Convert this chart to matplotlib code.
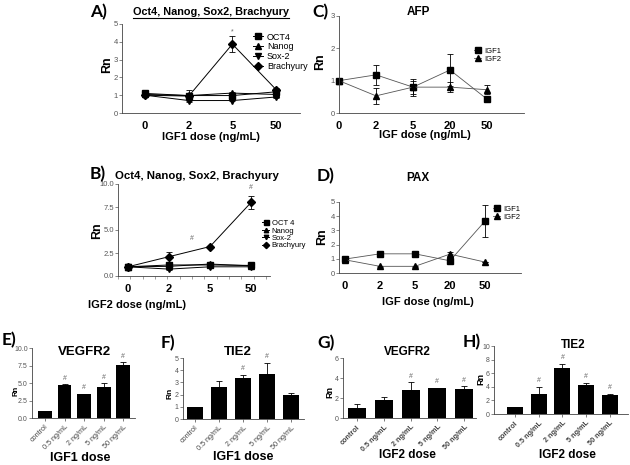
import matplotlib
matplotlib.use("Agg")
import matplotlib.pyplot as plt
from matplotlib.lines import Line2D

plt.rcParams["font.family"] = ["Liberation Sans", "DejaVu Sans"]

# ---------------------------------------------------------------- data
line_doses = ["0", "2", "5", "50"]
line_doses_igf = ["0", "2", "5", "20", "50"]
bar_doses = ["control", "0.5 ng/mL", "2 ng/mL", "5 ng/mL", "50 ng/mL"]

# A) IGF1, pluripotency markers
a_oct4 = [1.10, 0.98, 0.98, 1.19]
a_oct4_err = [0.08, 0.08, 0.08, 0.1]
a_nanog = [1.04, 0.98, 1.12, 1.04]
a_nanog_err = [0.05, 0.05, 0.06, 0.05]
a_sox2 = [1.00, 0.70, 0.70, 0.90]
a_sox2_err = [0.05, 0.05, 0.05, 0.05]
a_brachy = [1.00, 0.95, 3.87, 1.32]
a_brachy_err = [0.05, 0.33, 0.45, 0.1]

# B) IGF2, pluripotency markers
b_oct4 = [1.0, 1.2, 1.2, 1.15]
b_oct4_err = [0.05, 0.1, 0.1, 0.1]
b_nanog = [1.0, 1.05, 1.3, 1.1]
b_nanog_err = [0.05, 0.08, 0.08, 0.05]
b_sox2 = [1.0, 0.75, 1.0, 1.0]
b_sox2_err = [0.05, 0.08, 0.05, 0.05]
b_brachy = [1.0, 2.1, 3.2, 8.0]
b_brachy_err = [0.05, 0.55, 0.1, 0.7]

# C) AFP
c_igf1 = [1.0, 1.18, 0.8, 1.33, 0.43]
c_igf1_err = [0.03, 0.3, 0.26, 0.48, 0.04]
c_igf2 = [1.0, 0.53, 0.8, 0.8, 0.72]
c_igf2_err = [0.03, 0.25, 0.2, 0.16, 0.14]

# D) PAX
d_igf1 = [0.98, 1.35, 1.35, 0.86, 3.65]
d_igf1_err = [0.05, 0.05, 0.2, 0.05, 1.14]
d_igf2 = [0.93, 0.47, 0.47, 1.33, 0.77]
d_igf2_err = [0.03, 0.03, 0.03, 0.18, 0.03]

# E-H) bar charts
e_vegfr2 = [1.0, 4.7, 3.5, 4.4, 7.6]
e_vegfr2_err = [0.02, 0.1, 0.0, 0.55, 0.35]
e_marks = [False, True, True, True, True]

f_tie2 = [1.0, 2.65, 3.33, 3.72, 1.98]
f_tie2_err = [0.02, 0.47, 0.25, 0.85, 0.15]
f_marks = [False, False, True, True, False]

g_vegfr2 = [1.05, 1.85, 2.8, 2.97, 2.95]
g_vegfr2_err = [0.35, 0.22, 0.8, 0.06, 0.25]
g_marks = [False, False, True, True, True]

h_tie2 = [1.0, 3.0, 6.8, 4.3, 2.8]
h_tie2_err = [0.05, 1.0, 0.55, 0.3, 0.2]
h_marks = [False, True, True, True, True]

# ---------------------------------------------------------------- layout
W, H = 630, 465
fig = plt.figure(figsize=(W / 100, H / 100), dpi=100)


def box(x0, y0, x1, y1):
    return [x0 / W, 1 - y1 / H, (x1 - x0) / W, (y1 - y0) / H]


def ftext(x, y, s, **kw):
    kw.setdefault("ha", "center")
    kw.setdefault("va", "center")
    return fig.text(x / W, 1 - y / H, s, **kw)


def style_axes(ax, ytick_size=5.5):
    ax.spines["top"].set_visible(False)
    ax.spines["right"].set_visible(False)
    for s in ["left", "bottom"]:
        ax.spines[s].set_linewidth(0.6)
        ax.spines[s].set_color("#444444")
    ax.tick_params(axis="y", length=2, width=0.5, pad=1,
                   labelsize=ytick_size, labelcolor="#555555", colors="#555555")
    ax.tick_params(axis="x", length=0, pad=6, labelsize=8)
    for lab in ax.get_xticklabels():
        lab.set_fontweight("bold")


def line_series(ax, ys, errs, marker, ms, color="black", lw=0.7, label=None):
    xs = list(range(len(ys)))
    ax.errorbar(xs, ys, yerr=errs, fmt="none", ecolor="black", elinewidth=0.6,
                capsize=2, capthick=0.6, clip_on=False)
    ax.plot(xs, ys, color=color, lw=lw, marker=marker, ms=ms,
            mfc="black", mec="black", label=label, clip_on=False)


def bar_panel(ax, vals, errs, marks, ylim, yticks, yfmt, width, bold_ticks, hash_pad):
    xs = list(range(len(vals)))
    ax.bar(xs, vals, width=width, color="black")
    ax.errorbar(xs, vals, yerr=[[0] * len(errs), errs], fmt="none", ecolor="black",
                elinewidth=0.6, capsize=2.5, capthick=0.6)
    for x, v, e, m in zip(xs, vals, errs, marks):
        if m:
            ax.text(x, v + e + hash_pad, "#", ha="center", va="bottom",
                    fontsize=5, color="#666666")
    ax.set_ylim(*ylim)
    ax.set_yticks(yticks)
    ax.set_yticklabels([yfmt.format(t) for t in yticks])
    style_axes(ax, ytick_size=5)
    ax.set_xticks(xs)
    ax.set_xticklabels(bar_doses, rotation=45, ha="right", rotation_mode="anchor",
                       fontsize=5.2, fontweight="bold" if bold_ticks else "normal")
    ax.tick_params(axis="x", length=2, width=0.5, pad=2, colors="#444444")


letter_kw = dict(fontsize=12.5, fontweight="bold", family=["Lato", "DejaVu Sans"])
title_kw = dict(fontsize=9.5, fontweight="bold")
rn_kw = dict(fontsize=9, fontweight="bold", rotation=90)

# ---------------------------------------------------------------- A
axA = fig.add_axes(box(122, 24, 300, 113))
line_series(axA, a_oct4, a_oct4_err, "s", 5, label="OCT4")
line_series(axA, a_nanog, a_nanog_err, "^", 4.5, label="Nanog")
line_series(axA, a_sox2, a_sox2_err, "v", 4.5, label="Sox-2")
line_series(axA, a_brachy, a_brachy_err, "D", 4.5, label="Brachyury")
axA.text(2, a_brachy[2] + a_brachy_err[2] + 0.05, "*", ha="center", va="bottom",
         fontsize=5, color="#666666")
axA.set_xlim(-0.53, 3.55)
axA.set_ylim(0, 5)
axA.set_yticks(range(6))
axA.set_xticks(range(4))
axA.set_xticklabels(line_doses)
style_axes(axA)
axA.legend(loc="upper left", bbox_to_anchor=(248 / W, 1 - 28 / H), bbox_transform=fig.transFigure,
           frameon=False, fontsize=6.5, handlelength=1.2, handletextpad=0.4,
           labelspacing=0.1, borderpad=0)
ftext(99, 12, "A)", **letter_kw)
titleA = ftext(211, 12, "Oct4, Nanog, Sox2, Brachyury", fontsize=7.8, fontweight="bold")
ftext(107, 65, "Rn", **rn_kw)
ftext(211, 137, "IGF1 dose (ng/mL)", fontsize=8, fontweight="bold")

# ---------------------------------------------------------------- B
axB = fig.add_axes(box(118, 184, 270, 276))
line_series(axB, b_oct4, b_oct4_err, "s", 4.5, label="OCT 4")
line_series(axB, b_nanog, b_nanog_err, "^", 4, label="Nanog")
line_series(axB, b_sox2, b_sox2_err, "v", 4, label="Sox-2")
line_series(axB, b_brachy, b_brachy_err, "D", 4, label="Brachyury")
axB.text(1.55, b_brachy[2] + 0.45, "#", ha="center", va="bottom", fontsize=5, color="#666666")
axB.text(3, b_brachy[3] + b_brachy_err[3] + 0.5, "#", ha="center", va="bottom",
         fontsize=5, color="#666666")
axB.set_xlim(-0.24, 3.46)
axB.set_ylim(0, 10)
axB.set_yticks([0, 2.5, 5, 7.5, 10])
axB.set_yticklabels(["0.0", "2.5", "5.0", "7.5", "10.0"])
axB.set_xticks(range(4))
axB.set_xticklabels(line_doses)
style_axes(axB)
axB.set_xticks([-0.24 + 0.3 * i for i in range(13)], minor=True)
axB.tick_params(axis="x", which="minor", length=2, width=0.4, colors="#555555")
axB.legend(loc="upper left", bbox_to_anchor=(258 / W, 1 - 216 / H), bbox_transform=fig.transFigure,
           frameon=False, fontsize=5.5, handlelength=1.0, handletextpad=0.3,
           labelspacing=0.0, borderpad=0, markerscale=0.8)
ftext(98, 174, "B)", **letter_kw)
ftext(197, 176, "Oct4, Nanog, Sox2, Brachyury", fontsize=8.2, fontweight="bold")
ftext(97, 231, "Rn", **rn_kw)
ftext(137, 305, "IGF2 dose (ng/mL)", fontsize=8, fontweight="bold")

# ---------------------------------------------------------------- C
axC = fig.add_axes(box(339, 16, 524, 113))
line_series(axC, c_igf1, c_igf1_err, "s", 5, color="#555555", lw=0.6, label="IGF1")
line_series(axC, c_igf2, c_igf2_err, "^", 5, color="#555555", lw=0.6, label="IGF2")
axC.set_xlim(0, 5)
axC.set_ylim(0, 3)
axC.set_yticks(range(4))
axC.set_xticks(range(5))
axC.set_xticklabels(line_doses_igf)
style_axes(axC)
axC.legend(loc="upper left", bbox_to_anchor=(470 / W, 1 - 44 / H), bbox_transform=fig.transFigure,
           frameon=False, fontsize=5.5, handlelength=1.0, handletextpad=0.4,
           labelspacing=0.05, borderpad=0, markerscale=0.8)
ftext(320, 12, "C)", **letter_kw)
ftext(418, 12, "AFP", fontsize=8.5, fontweight="bold")
ftext(320, 62, "Rn", **rn_kw)
ftext(425, 135, "IGF dose (ng/mL)", fontsize=8, fontweight="bold")

# ---------------------------------------------------------------- D
axD = fig.add_axes(box(339, 202, 521, 273))
line_series(axD, d_igf1, d_igf1_err, "s", 5, color="#555555", lw=0.6, label="IGF1")
line_series(axD, d_igf2, d_igf2_err, "^", 5, color="#555555", lw=0.6, label="IGF2")
axD.set_xlim(-0.17, 5.03)
axD.set_ylim(0, 5)
axD.set_yticks(range(6))
axD.set_xticks(range(5))
axD.set_xticklabels(line_doses_igf)
style_axes(axD)
axD.legend(loc="upper left", bbox_to_anchor=(489 / W, 1 - 202 / H), bbox_transform=fig.transFigure,
           frameon=False, fontsize=5.5, handlelength=1.0, handletextpad=0.4,
           labelspacing=0.05, borderpad=0, markerscale=0.8)
ftext(326, 176, "D)", **letter_kw)
ftext(418, 178, "PAX", fontsize=8.5, fontweight="bold")
ftext(322, 237, "Rn", **rn_kw)
ftext(428, 302, "IGF dose (ng/mL)", fontsize=8, fontweight="bold")

# ---------------------------------------------------------------- E
axE = fig.add_axes(box(32, 348, 135, 418))
bar_panel(axE, e_vegfr2, e_vegfr2_err, e_marks, (0, 10), [0, 2.5, 5, 7.5, 10], "{:.1f}",
          0.71, False, 0.4)
axE.set_xlim(-0.66, 4.6)
ftext(9, 340, "E)", **letter_kw)
ftext(84, 352, "VEGFR2", **title_kw)
ftext(16, 391, "Rn", fontsize=5.5, fontweight="bold", rotation=90)
ftext(80, 458, "IGF1 dose", fontsize=9, fontweight="bold")

# ---------------------------------------------------------------- F
axF = fig.add_axes(box(183, 358, 304, 419))
bar_panel(axF, f_tie2, f_tie2_err, f_marks, (0, 5), range(6), "{}",
          0.67, False, 0.3)
axF.set_xlim(-0.5, 4.54)
ftext(168, 343, "F)", **letter_kw)
ftext(238, 352, "TIE2", **title_kw)
ftext(170, 393, "Rn", fontsize=6, fontweight="bold", rotation=90)
ftext(243, 457, "IGF1 dose", fontsize=9, fontweight="bold")

# ---------------------------------------------------------------- G
axG = fig.add_axes(box(343, 358, 476, 418))
bar_panel(axG, g_vegfr2, g_vegfr2_err, g_marks, (0, 6), [0, 2, 4, 6], "{}",
          0.67, True, 0.25)
axG.set_xlim(-0.52, 4.44)
ftext(326, 343, "G)", **letter_kw)
ftext(407, 352, "VEGFR2", fontsize=8.5, fontweight="bold")
ftext(330, 392, "Rn", fontsize=6.5, fontweight="bold", rotation=90)
ftext(407, 455, "IGF2 dose", fontsize=8.5, fontweight="bold")

# ---------------------------------------------------------------- H
axH = fig.add_axes(box(494, 346, 628, 414))
bar_panel(axH, h_tie2, h_tie2_err, h_marks, (0, 10), [0, 2, 4, 6, 8, 10], "{}",
          0.67, True, 0.4)
axH.set_xlim(-0.88, 4.76)
ftext(472, 342, "H)", **letter_kw)
ftext(573, 345, "TIE2", fontsize=8.5, fontweight="bold")
ftext(481, 379, "Rn", fontsize=6.5, fontweight="bold", rotation=90)
ftext(567, 455, "IGF2 dose", fontsize=8.5, fontweight="bold")

# underline the title of panel A
fig.canvas.draw()
bb = titleA.get_window_extent(fig.canvas.get_renderer()).transformed(fig.transFigure.inverted())
fig.add_artist(Line2D([bb.x0, bb.x1], [bb.y0 - 0.002, bb.y0 - 0.002], color="black", lw=0.8,
                      transform=fig.transFigure))

fig.savefig("out.png", dpi=100)
